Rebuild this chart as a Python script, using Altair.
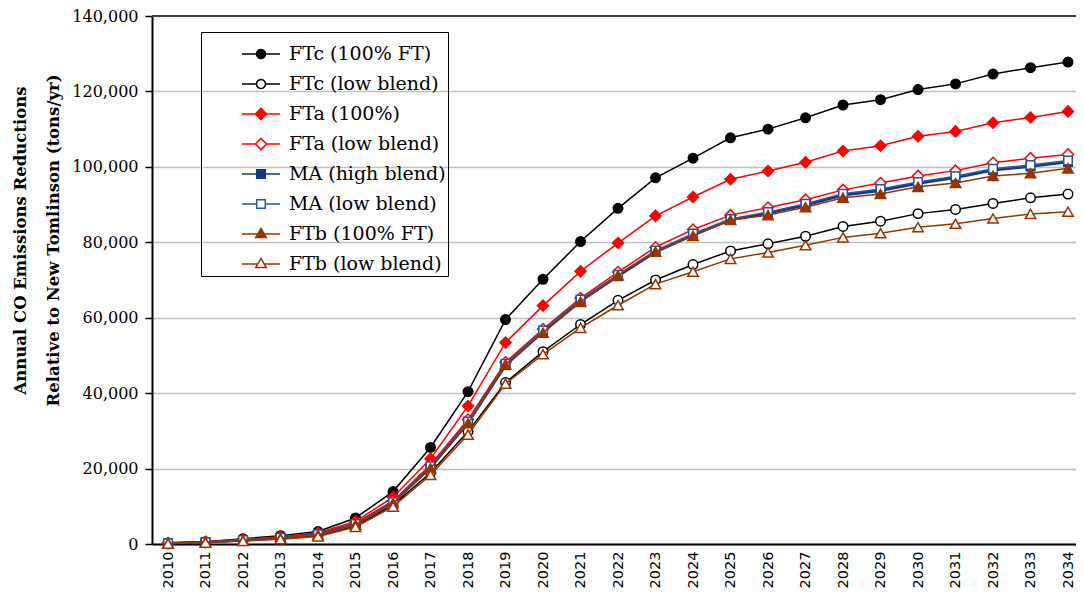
import math
import altair as alt
import pandas as pd

years = list(range(2010, 2035))

series_names = [
    "FTc (100% FT)", "FTc (low blend)", "FTa (100%)", "FTa (low blend)",
    "MA (high blend)", "MA (low blend)", "FTb (100% FT)", "FTb (low blend)",
]

ftc_100 = [300, 600, 1400, 2200, 3300, 6900, 13900, 25600, 40400, 59500, 70200, 80200, 89000,
           97100, 102300, 107700, 110000, 113000, 116400, 117800, 120500, 122000, 124600, 126300, 127800]
ftc_low = [150, 400, 900, 1400, 2200, 4800, 10300, 18900, 29800, 42800, 51000, 58200, 64600,
           70000, 74100, 77700, 79600, 81600, 84200, 85600, 87600, 88700, 90300, 91800, 92800]
fta_100 = [250, 550, 1200, 1900, 3000, 6000, 12400, 22600, 36600, 53400, 63200, 72300, 79800,
           87000, 92000, 96700, 98900, 101200, 104200, 105600, 108100, 109400, 111700, 113100, 114700]
fta_low = [220, 500, 1100, 1700, 2700, 5600, 11400, 21000, 33000, 48200, 57000, 65200, 72100,
           78700, 83400, 87200, 89200, 91300, 93900, 95700, 97600, 99000, 101100, 102300, 103300]
ma_high = [190, 460, 1000, 1600, 2500, 5200, 10900, 20300, 32100, 47400, 56200, 64400, 71000,
           77400, 81900, 85900, 87700, 89800, 92500, 93700, 95600, 97100, 99100, 100100, 101300]
ma_low = [200, 480, 1050, 1650, 2600, 5300, 11100, 20600, 32500, 47800, 56600, 64800, 71400,
          77800, 82300, 86200, 88000, 90200, 92900, 94100, 96000, 97500, 99500, 100500, 101700]
ftb_100 = [180, 450, 950, 1500, 2400, 5100, 10800, 20100, 32000, 47600, 56000, 64200, 71200,
           77500, 81700, 85900, 87200, 89300, 91800, 92800, 94700, 95700, 97600, 98300, 99600]
ftb_low = [100, 350, 800, 1250, 2000, 4500, 9900, 18300, 29000, 42500, 50300, 57300, 63300,
           68900, 72200, 75600, 77300, 79200, 81300, 82400, 84000, 84900, 86300, 87500, 88100]

all_values = [ftc_100, ftc_low, fta_100, fta_low, ma_high, ma_low, ftb_100, ftb_low]

stroke_colors = ["#000000", "#000000", "#FF0000", "#FF0000", "#123C7C", "#2B559C", "#993300", "#993300"]
fill_colors = ["#000000", "#FFFFFF", "#FF0000", "#FFFFFF", "#123C7C", "#FFFFFF", "#993300", "#FFFFFF"]
marker_shapes = ["circle", "circle", "diamond", "diamond", "square", "square", "triangle-up", "triangle-up"]
marker_sizes = [90, 90, 121, 121, 72, 72, 110, 110]
line_widths = [1.5, 1.5, 1.5, 1.5, 2.6, 1.5, 1.5, 1.5]

rows = []
for name, vals in zip(series_names, all_values):
    for yr, v in zip(years, vals):
        rows.append({"series": name, "year": yr, "value": v})
df = pd.DataFrame(rows)

# ---- legend symbol paths (line + marker), units scaled by sqrt(size)/2 ----
R = 19.0


def f(v):
    return f"{v:.4f}"


def circle_path(rpx):
    rc = rpx / R
    pts = []
    n = 20
    for i in range(n):
        a = 2 * math.pi * i / n
        pts.append((rc * math.cos(a), rc * math.sin(a)))
    p = f"M-1,0H{f(-rc)}M{f(rc)},0H1M{f(pts[0][0])},{f(pts[0][1])}"
    for x, y in pts[1:]:
        p += f"L{f(x)},{f(y)}"
    return p + "Z"


def diamond_path(rpx):
    r = rpx / R
    return f"M-1,0H{f(-r)}M{f(r)},0H1M{f(-r)},0L0,{f(-r)}L{f(r)},0L0,{f(r)}Z"


def square_path(hpx):
    h = hpx / R
    return f"M-1,0H{f(-h)}M{f(h)},0H1M{f(-h)},{f(-h)}H{f(h)}V{f(h)}H{f(-h)}Z"


def triangle_path(wpx, toppx, botpx):
    w, t, b = wpx / R, toppx / R, botpx / R
    return f"M-1,0H{f(-w * 0.6)}M{f(w * 0.6)},0H1M0,{f(-t)}L{f(w)},{f(b)}L{f(-w)},{f(b)}Z"


legend_paths = [
    circle_path(4.5), circle_path(4.5),
    diamond_path(5.6), diamond_path(5.6),
    square_path(4.3), square_path(4.3),
    triangle_path(5.3, 5.6, 3.6), triangle_path(5.3, 5.6, 3.6),
]

x_enc = alt.X(
    "year:Q",
    scale=alt.Scale(domain=[2009.573, 2034.213], nice=False, zero=False),
    axis=alt.Axis(
        values=years, format="d", labelAngle=270, title=None, grid=False,
        ticks=False, tickSize=0, labelPadding=7, labelFont="DejaVu Sans",
        labelFontSize=14.5, labelColor="#000000", domainColor="#000000",
        domainWidth=2, labelOverlap=False, labelFlush=False,
    ),
)
y_enc = alt.Y(
    "value:Q",
    scale=alt.Scale(domain=[0, 140000], nice=False),
    axis=alt.Axis(
        values=list(range(0, 140001, 20000)), format=",d",
        title=["Annual CO Emissions Reductions", "Relative to New Tomlinson (tons/yr)"],
        titleFont="DejaVu Serif", titleFontSize=16.5, titleFontWeight="bold",
        titleColor="#000000", titleLineHeight=33, titleX=-124, titleY=224,
        labelFont="DejaVu Serif", labelFontSize=16, labelColor="#000000",
        labelPadding=7, tickSize=7, tickColor="#000000", tickWidth=1.5,
        domainColor="#000000", domainWidth=2, grid=True, gridColor="#C0C0C0",
        gridWidth=1.5,
    ),
)

base = alt.Chart(df)
layers = []

top_rule = alt.Chart(df).mark_rule(color="#404040", strokeWidth=2).encode(y=alt.datum(140000))
layers.append(top_rule)

for name, sc, fc, shp, sz, lw in zip(series_names, stroke_colors, fill_colors, marker_shapes,
                                     marker_sizes, line_widths):
    sub = base.transform_filter(alt.datum.series == name)
    layers.append(sub.mark_line(color=sc, strokeWidth=lw).encode(x=x_enc, y=y_enc))
    layers.append(
        sub.mark_point(shape=shp, size=sz, fill=fc, stroke=sc, strokeWidth=1.5,
                       opacity=1, fillOpacity=1, filled=False).encode(x=x_enc, y=y_enc)
    )

legend_layer = base.mark_point(opacity=0, size=1444, strokeWidth=1.5).encode(
    x=x_enc,
    y=y_enc,
    shape=alt.Shape(
        "series:N",
        scale=alt.Scale(domain=series_names, range=legend_paths),
        legend=alt.Legend(
            title=None, orient="none", legendX=49, legendY=16, strokeColor="#000000",
            padding=2, symbolOffset=38, symbolSize=1444, symbolStrokeWidth=1.5,
            labelFont="DejaVu Serif", labelFontSize=19, labelColor="#000000",
            labelOffset=8, rowPadding=0, symbolOpacity=1, labelLimit=400,
        ),
    ),
    fill=alt.Fill("series:N", scale=alt.Scale(domain=series_names, range=fill_colors)),
    stroke=alt.Stroke("series:N", scale=alt.Scale(domain=series_names, range=stroke_colors)),
)
layers.append(legend_layer)

chart = alt.layer(*layers).properties(
    width=924,
    height=528,
    padding={"left": 144, "top": 8, "right": 0, "bottom": 44},
    autosize=alt.AutoSizeParams(type="none"),
).configure_view(stroke=None).configure(background="#FFFFFF")

chart.save("out.html", embed_options={"renderer": "svg", "actions": False})
